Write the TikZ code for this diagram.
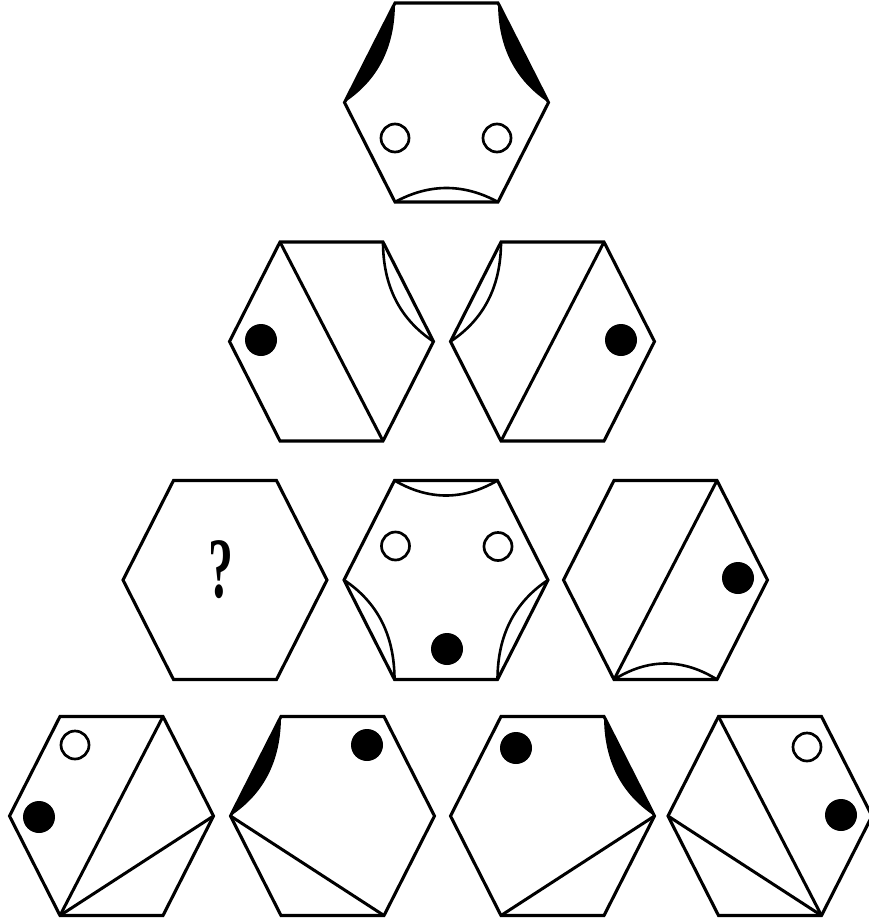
\documentclass[tikz,border=0pt]{standalone}
\usepackage{fontspec}
\newfontfamily\qfont{Liberation Serif}
\usetikzlibrary{calc}
\newcommand\defhex[3]{%
  \coordinate (#1) at (#2,#3);
  \coordinate (#1-1) at ({#2-51.5},{#3-99.5});
  \coordinate (#1-2) at ({#2+51.5},{#3-99.5});
  \coordinate (#1-3) at ({#2+102},{#3});
  \coordinate (#1-4) at ({#2+51.5},{#3+99.5});
  \coordinate (#1-5) at ({#2-51.5},{#3+99.5});
  \coordinate (#1-6) at ({#2-102},{#3});
}
\newcommand\hexout[1]{\draw[hexline] (#1-1) -- (#1-2) -- (#1-3) -- (#1-4) -- (#1-5) -- (#1-6) -- cycle;}
% parabolic arc from #2 to #3, bulging by #1/2 towards #4
\newcommand\lensline[4][30]{%
  \coordinate (lq) at ($(#2)!0.5!(#3)!#1pt!(#4)$);
  \draw[lensline] (#2) .. controls ($(#2)!0.6667!(lq)$) and ($(#3)!0.6667!(lq)$) .. (#3);}
\newcommand\crescent[4][30]{%
  \coordinate (lq) at ($(#2)!0.5!(#3)!#1pt!(#4)$);
  \fill[black] (#2) .. controls ($(#2)!0.6667!(lq)$) and ($(#3)!0.6667!(lq)$) .. (#3) -- cycle;}
\newcommand\opendot[2]{\draw[opencirc] (#1,#2) circle[radius=14pt];}
\newcommand\blackdot[2]{\fill[black] (#1,#2) circle[radius=16pt];}
\begin{document}
\begin{tikzpicture}[x=1pt,y=-1pt,
  hexline/.style={line width=3.1pt, line join=miter},
  lensline/.style={line width=2.6pt},
  diag/.style={line width=3pt},
  opencirc/.style={line width=2.7pt}]
\useasboundingbox[fill=white] (0,0) rectangle (869,924);

% hexagon positions
\defhex{A}{446.5}{102.5}
\defhex{Ba}{331.5}{341.5}
\defhex{Bb}{552.5}{341.5}
\defhex{Ca}{225}{580}
\defhex{Cb}{446}{580}
\defhex{Cc}{665.5}{580}
\defhex{Da}{111.5}{816}
\defhex{Db}{332.5}{816}
\defhex{Dc}{552.5}{816}
\defhex{Dd}{770}{816}

% ---- top hexagon
\crescent{A-1}{A-6}{A}
\crescent{A-2}{A-3}{A}
\lensline[28]{A-5}{A-4}{A}
\opendot{395}{138}
\opendot{497}{138}
\hexout{A}

% ---- row 2
\lensline{Ba-2}{Ba-3}{Ba}
\draw[diag] (Ba-1) -- (Ba-4);
\blackdot{261}{340}
\hexout{Ba}

\lensline{Bb-1}{Bb-6}{Bb}
\draw[diag] (Bb-2) -- (Bb-5);
\blackdot{621}{340}
\hexout{Bb}

% ---- row 3
\node[anchor=base, inner sep=0pt, xscale=0.58, font=\qfont\bfseries\fontsize{86}{86}\selectfont] (qm) at (221,597) {?};
\hexout{Ca}

\lensline{Cb-1}{Cb-2}{Cb}
\lensline{Cb-6}{Cb-5}{Cb}
\lensline{Cb-3}{Cb-4}{Cb}
\opendot{395.5}{546}
\opendot{498}{546.5}
\blackdot{447}{649}
\hexout{Cb}

\lensline[32]{Cc-5}{Cc-4}{Cc}
\draw[diag] (Cc-2) -- (Cc-5);
\blackdot{738}{578}
\hexout{Cc}

% ---- row 4
\draw[diag] (Da-5) -- (Da-2);
\draw[diag] (Da-5) -- (Da-3);
\opendot{75}{745}
\blackdot{39}{817}
\hexout{Da}

\crescent{Db-1}{Db-6}{Db}
\draw[diag] (Db-6) -- (Db-4);
\blackdot{367}{745}
\hexout{Db}

\crescent{Dc-2}{Dc-3}{Dc}
\draw[diag] (Dc-5) -- (Dc-3);
\blackdot{516}{748}
\hexout{Dc}

\draw[diag] (Dd-1) -- (Dd-4);
\draw[diag] (Dd-6) -- (Dd-4);
\opendot{807}{747}
\blackdot{841}{815}
\hexout{Dd}
\end{tikzpicture}
\end{document}
